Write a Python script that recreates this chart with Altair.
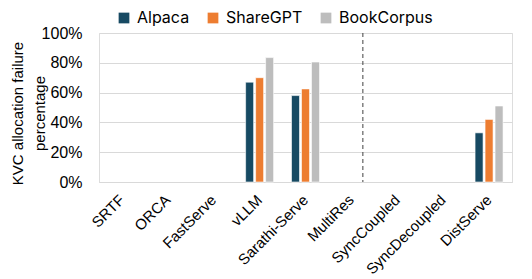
import altair as alt
import pandas as pd

systems = ["SRTF", "ORCA", "FastServe", "vLLM", "Sarathi-Serve", "MultiRes",
           "SyncCoupled", "SyncDecoupled", "DistServe"]
datasets = ["Alpaca", "ShareGPT", "BookCorpus"]
alpaca = [0, 0, 0, 0.67, 0.58, 0, 0, 0, 0.33]
sharegpt = [0, 0, 0, 0.70, 0.625, 0, 0, 0, 0.42]
bookcorpus = [0, 0, 0, 0.835, 0.805, 0, 0, 0, 0.51]
colors = ["#174A63", "#ED7D31", "#BDBDBD"]
divider_after = "MultiRes"

rows = []
for i, s in enumerate(systems):
    for d, vals in zip(datasets, [alpaca, sharegpt, bookcorpus]):
        rows.append({"system": s, "dataset": d, "value": vals[i]})
df = pd.DataFrame(rows)
df = df[df["value"] > 0]

xscale = alt.Scale(domain=systems, paddingInner=0.39, paddingOuter=0.195)

bars = alt.Chart(df).mark_bar(stroke="white", strokeWidth=0.6).encode(
    x=alt.X("system:N", scale=xscale, sort=systems,
            axis=alt.Axis(title=None, labelAngle=-45, labelAlign="right",
                          labelBaseline="middle", labelFontSize=15,
                          labelFont="Liberation Sans", labelColor="#000",
                          ticks=False, domainColor="#D9D9D9", labelPadding=15)),
    xOffset=alt.XOffset("dataset:N", sort=datasets,
                        scale=alt.Scale(domain=datasets, paddingInner=0.2)),
    y=alt.Y("value:Q", scale=alt.Scale(domain=[0, 1]),
            axis=alt.Axis(format="%", values=[0, 0.2, 0.4, 0.6, 0.8, 1.0],
                          title=["KVC allocation failure", "percentage"],
                          titleFont="Liberation Sans", titleFontSize=15,
                          titleFontWeight="normal", titleColor="#000",
                          titleLineHeight=22, titleAngle=270,
                          titleBaseline="top", titleAlign="center",
                          titleX=-89, titleY=80,
                          labelFont="Liberation Sans", labelFontSize=16,
                          labelColor="#000", labelPadding=17,
                          ticks=False, domain=False, gridColor="#D9D9D9")),
    color=alt.Color("dataset:N", sort=datasets,
                    scale=alt.Scale(domain=datasets, range=colors),
                    legend=alt.Legend(title=None, orient="none", direction="horizontal",
                                      legendX=17, legendY=-23, symbolType="square",
                                      symbolSize=115, symbolStrokeWidth=0,
                                      labelFontSize=16, labelFont="Inter",
                                      labelColor="#000", columnPadding=15,
                                      labelOffset=5, labelLimit=200)),
)

rule_df = pd.DataFrame({"system": [divider_after]})
rule = alt.Chart(rule_df).mark_rule(color="#404040", strokeDash=[4, 3],
                                    strokeWidth=1).encode(
    x=alt.X("system:N", scale=xscale, bandPosition=0.91),
    y=alt.value(0),
    y2=alt.value(149),
)

chart = alt.layer(bars, rule).properties(
    width=413, height=149,
    autosize=alt.AutoSizeParams(type="none"),
    padding={"left": 91, "top": 25, "right": 12, "bottom": 95},
).configure_view(stroke=None).configure(background="white")

chart.save("out.html", embed_options={"renderer": "svg", "actions": False})
